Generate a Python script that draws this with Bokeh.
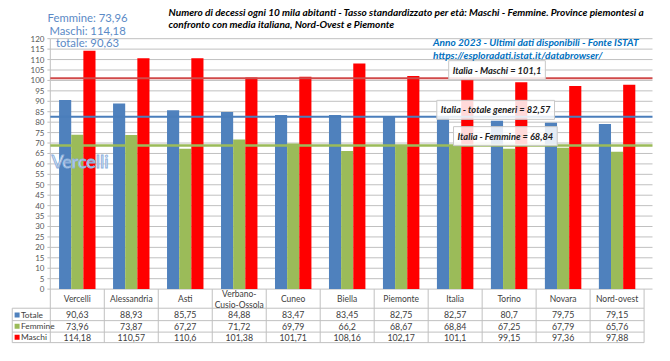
from bokeh.plotting import figure
from bokeh.models import Label
from bokeh.core.properties import value
from bokeh.embed import file_html
from bokeh.resources import INLINE

# ---------------- data ----------------
categories = ["Vercelli", "Alessandria", "Asti", "Verbano-Cusio-Ossola", "Cuneo", "Biella",
              "Piemonte", "Italia", "Torino", "Novara", "Nord-ovest"]
totale = [90.63, 88.93, 85.75, 84.88, 83.47, 83.45, 82.75, 82.57, 80.7, 79.75, 79.15]
femmine = [73.96, 73.87, 67.27, 71.72, 69.79, 66.2, 68.67, 68.84, 67.25, 67.79, 65.76]
maschi = [114.18, 110.57, 110.6, 101.38, 101.71, 108.16, 102.17, 101.1, 99.15, 97.36, 97.88]
series_names = ["Totale", "Femmine", "Maschi"]
y_ticks = list(range(0, 121, 5))
title_lines = [
    "Numero di decessi ogni 10 mila abitanti  - Tasso standardizzato per età: Maschi - Femmine. Province piemontesi a",
    "confronto con media italiana, Nord-Ovest e Piemonte",
]
source_lines = ["Anno 2023 - Ultimi dati disponibili - Fonte ISTAT",
                "https://esploradati.istat.it/databrowser/"]
reference_name = "Italia"
highlight_name = "Vercelli"

# ---------------- styles ----------------
series_values = [totale, femmine, maschi]
series_colors = ["#4f81bd", "#9bbb59", "#ff0000"]
line_colors = ["#4a7ebb", "#9bbb59", "#d04a4a"]
FONT = "Lato"
GRID = "#c0c0c0"
TXT = "#404040"


def fmt(v):
    s = f"{v:.2f}".rstrip("0").rstrip(".")
    return s.replace(".", ",")


n = len(categories)
ri = categories.index(reference_name)
hi = categories.index(highlight_name)

X0, X1 = -1.4226, 10.693  # plot area starts at x = -0.5, left part holds axis labels / legend column
Y0, Y1 = -27.03, 138.3    # data area is 0..120, below: data table, above: titles
XR = 10.656               # right end of gridlines

p = figure(width=654, height=345, x_range=(X0, X1), y_range=(Y0, Y1),
           output_backend="svg", toolbar_location=None,
           x_axis_location=None, y_axis_location=None,
           min_border=0, outline_line_color=None,
           background_fill_color="white", border_fill_color="white")
p.grid.visible = False

# gridlines, axis line, ticks, tick labels (value axis)
p.segment(x0=[-0.5] * len(y_ticks), x1=[XR] * len(y_ticks), y0=y_ticks, y1=y_ticks,
          line_color=GRID, line_width=1)
p.segment(x0=[-0.554] * len(y_ticks), x1=[-0.5] * len(y_ticks), y0=y_ticks, y1=y_ticks,
          line_color=GRID, line_width=1)
p.segment(x0=[-0.5], x1=[-0.5], y0=[-25.65], y1=[y_ticks[-1]], line_color=GRID, line_width=1)
p.text(x=[-0.608] * len(y_ticks), y=y_ticks, text=[str(t) for t in y_ticks],
       text_font=value(FONT), text_font_size="8px", text_color="#595959",
       text_align="right", text_baseline="middle")

# bars
bw = 0.225
offsets = [-bw, 0, bw]
for vals, col, off in zip(series_values, series_colors, offsets):
    p.vbar(x=[i + off for i in range(n)], top=vals, bottom=0, width=bw,
           fill_color=col, line_color=None)

# reference lines (Italia)
for vals, col, w in zip(series_values, line_colors, [2, 2.5, 2]):
    p.segment(x0=[-0.5], x1=[XR], y0=[vals[ri]], y1=[vals[ri]], line_color=col, line_width=w)

box_kw = dict(text_font=FONT, text_font_style="bold italic", text_font_size="9.3px",
              text_color="#202020", background_fill_color="white", background_fill_alpha=0.85,
              border_line_color="#c8c8c8", border_line_width=1, padding=4,
              text_baseline="middle", text_align="left")
p.add_layout(Label(x=6.88, y=104.9, text=f"{reference_name} - Maschi = {fmt(maschi[ri])}", **box_kw))
p.add_layout(Label(x=6.66, y=85.9, text=f"{reference_name} - totale generi = {fmt(totale[ri])}", **box_kw))
p.add_layout(Label(x=6.97, y=73.3, text=f"{reference_name} - Femmine = {fmt(femmine[ri])}", **box_kw))

# big highlight label
p.text(x=[-0.48], y=[61.4], text=[highlight_name], text_font=value(FONT), text_font_size="18px",
       text_color="white", text_outline_color="#8db0dc", text_align="left", text_baseline="middle")

# top-left summary
summary = [f"Femmine: {fmt(femmine[hi])}", f"Maschi: {fmt(maschi[hi])}", f"totale: {fmt(totale[hi])}"]
for t, yy in zip(summary, [130.1, 124.1, 118.2]):
    p.add_layout(Label(x=0.19, y=yy, text=t, text_font=FONT, text_font_size="11.3px",
                       text_color="#5b8ac6", text_align="center", text_baseline="middle"))

# title
for t, yy in zip(title_lines, [132.8, 126.9]):
    p.add_layout(Label(x=1.69, y=yy, text=t, text_font=FONT, text_font_style="bold italic",
                       text_font_size="10.1px", text_color="black", text_align="left",
                       text_baseline="middle"))
# source
for t, yy in zip(source_lines, [118.2, 112.2]):
    p.add_layout(Label(x=6.59, y=yy, text=t, text_font=FONT, text_font_style="bold italic",
                       text_font_size="10.1px", text_color="#0070c0", text_align="left",
                       text_baseline="middle"))

# ---------------- data table ----------------
row_borders = [-9.16, -15.11, -20.61, -25.65]
row_centers = [-12.37, -17.86, -23.13]
header_y = -4.9
xs = list(range(n))
LEG_L = -1.205
p.segment(x0=[LEG_L] * 4, x1=[n - 0.5] * 4, y0=row_borders, y1=row_borders,
          line_color=GRID, line_width=1)
p.segment(x0=[LEG_L], x1=[LEG_L], y0=[row_borders[0]], y1=[row_borders[-1]],
          line_color=GRID, line_width=1)
p.segment(x0=[i + 0.5 for i in range(n)], x1=[i + 0.5 for i in range(n)],
          y0=[0] * n, y1=[row_borders[-1]] * n, line_color=GRID, line_width=1)

header = [c.replace("-", "-\n", 1) if len(c) > 14 else c for c in categories]
p.text(x=xs, y=[header_y] * n, text=header, text_font=value(FONT), text_font_size="8.5px",
       text_color=TXT, text_align="center", text_baseline="middle", text_line_height=1.15)
for vals, yy in zip(series_values, row_centers):
    p.text(x=xs, y=[yy] * n, text=[fmt(v) for v in vals], text_font=value(FONT),
           text_font_size="8.8px", text_color=TXT, text_align="center", text_baseline="middle")

# legend keys of the table
p.rect(x=[-1.115] * 3, y=row_centers, width=5, height=5, width_units="screen",
       height_units="screen", fill_color=series_colors, line_color=None)
p.text(x=[-1.045] * 3, y=row_centers, text=series_names, text_font=value(FONT),
       text_font_size="8.4px", text_color=TXT, text_align="left", text_baseline="middle")

open("out.html", "w").write(file_html(p, INLINE))
